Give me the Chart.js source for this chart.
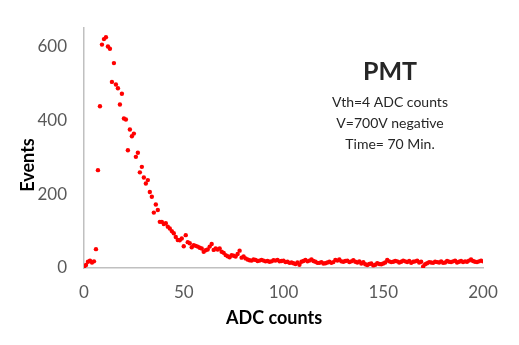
<!DOCTYPE html>
<html>
<head>
<meta charset="utf-8">
<script src="https://cdn.jsdelivr.net/npm/chart.js@4"></script>
<style>
  html, body { margin: 0; padding: 0; background: #fff; }
  #box { width: 519px; height: 345px; }
</style>
</head>
<body>
<div id="box"><canvas id="grafico"></canvas></div>
<script>
// contagens ADC (0..200) e eventos
const canais = [];
for (let c = 0; c <= 200; c++) canais.push(c);

const eventos = [
  2, 8, 17, 20, 15, 18, 51, 265, 438, 605,
  620, 625, 600, 594, 504, 555, 497, 487, 443, 472,
  405, 402, 319, 375, 357, 364, 301, 312, 259, 274,
  245, 229, 238, 206, 193, 150, 172, 157, 125, 125,
  119, 121, 112, 107, 100, 94, 84, 76, 75, 80,
  59, 89, 70, 67, 56, 62, 60, 58, 55, 53,
  44, 48, 50, 58, 65, 49, 53, 50, 53, 44,
  41, 35, 32, 29, 35, 33, 31, 38, 47, 28,
  31, 26, 23, 21, 20, 23, 22, 19, 20, 22,
  20, 18, 19, 17, 18, 21, 20, 22, 18, 19,
  20, 16, 17, 14, 15, 13, 11, 15, 9, 17,
  19, 22, 18, 20, 23, 19, 17, 14, 14, 16,
  12, 13, 15, 17, 14, 16, 22, 20, 23, 18,
  17, 19, 20, 16, 18, 21, 17, 15, 18, 12,
  16, 10, 8, 11, 12, 7, 9, 13, 11, 10,
  12, 15, 22, 18, 16, 17, 19, 18, 15, 17,
  20, 18, 16, 19, 14, 17, 18, 20, 15, 17,
  4, 10, 13, 16, 15, 14, 17, 16, 15, 18,
  14, 15, 19, 17, 16, 18, 20, 15, 17, 19,
  16, 18, 17, 20, 23, 19, 17, 16, 18, 20,
  18
];

const ticksX = [0, 50, 100, 150, 200];
const ticksY = [0, 200, 400, 600];
const tituloX = 'ADC counts';
const tituloY = 'Events';
const anotacao = ['PMT', 'Vth=4 ADC counts', 'V=700V negative', 'Time= 70 Min.'];

const pontos = canais.map((c, i) => ({ x: c, y: eventos[i] }));

const textos = {
  id: 'textos',
  afterDraw(chart) {
    const ctx = chart.ctx;
    ctx.save();
    ctx.fillStyle = '#000';
    ctx.textAlign = 'center';
    ctx.textBaseline = 'middle';
    ctx.font = 'bold 18px Lato';
    ctx.fillText(tituloX, 274, 318);
    ctx.save();
    ctx.translate(28, 165);
    ctx.rotate(-Math.PI / 2);
    ctx.fillText(tituloY, 0, 0);
    ctx.restore();
    ctx.fillStyle = '#262626';
    ctx.font = 'bold 25px Lato';
    ctx.fillText(anotacao[0], 390, 72);
    ctx.font = '14px Lato';
    ctx.fillText(anotacao[1], 390, 102);
    ctx.fillText(anotacao[2], 390, 123);
    ctx.fillText(anotacao[3], 390, 144);
    ctx.restore();
  }
};

const config = {
  type: 'scatter',
  data: {
    datasets: [{
      data: pontos,
      backgroundColor: '#ff0000',
      borderColor: '#ff0000',
      pointRadius: 2.2,
      pointBorderWidth: 0
    }]
  },
  options: {
    responsive: true,
    maintainAspectRatio: false,
    animation: false,
    layout: { padding: { top: 28, right: 36, bottom: 0, left: 0 } },
    plugins: { legend: { display: false }, tooltip: { enabled: false } },
    scales: {
      x: {
        type: 'linear',
        min: 0, max: 200,
        afterFit: (s) => { s.height = 77; },
        afterBuildTicks: (s) => { s.ticks = ticksX.map(v => ({ value: v })); },
        grid: { display: false, drawTicks: false },
        border: { display: true, color: '#c0c0c0', width: 1.5 },
        ticks: { color: '#595959', font: { family: 'Lato', size: 17 }, padding: 14 }
      },
      y: {
        min: 0, max: 650,
        afterFit: (s) => { s.width = 84; },
        afterBuildTicks: (s) => { s.ticks = ticksY.map(v => ({ value: v })); },
        grid: { display: false, drawTicks: false },
        border: { display: true, color: '#c0c0c0', width: 1.5 },
        ticks: { color: '#595959', font: { family: 'Lato', size: 17 }, padding: 17 }
      }
    }
  },
  plugins: [textos]
};

var ctx = document.getElementById('grafico').getContext('2d');
let myChart = new Chart(ctx, config);
</script>
</body>
</html>
